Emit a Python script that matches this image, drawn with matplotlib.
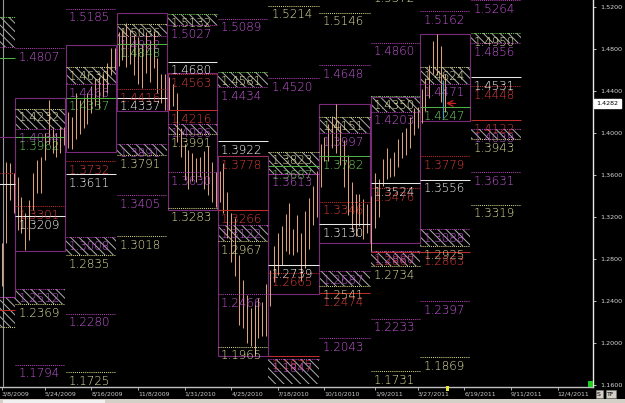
import numpy as np
import pandas as pd
import matplotlib
matplotlib.use('Agg')
import matplotlib.pyplot as plt
from matplotlib.patches import Rectangle
from matplotlib import font_manager

BASE = np.datetime64('2009-03-08')

# ---------------- data ----------------
quarter_starts = ['2009-01-01', '2009-04-01', '2009-07-01', '2009-10-01', '2010-01-01',
                  '2010-04-01', '2010-07-01', '2010-10-01', '2011-01-01', '2011-04-01',
                  '2011-07-01', '2011-10-01']

date_ticks = ['2009-03-08', '2009-05-24', '2009-08-16', '2009-11-08', '2010-01-31',
              '2010-04-25', '2010-07-18', '2010-10-10', '2011-01-09', '2011-03-27',
              '2011-06-19', '2011-09-11', '2011-12-04']
date_labels = ['3/8/2009', '5/24/2009', '8/16/2009', '11/8/2009', '1/31/2010', '4/25/2010',
               '7/18/2010', '10/10/2010', '1/9/2011', '3/27/2011', '6/19/2011', '9/11/2011',
               '12/4/2011']

price_ticks = [1.52, 1.48, 1.44, 1.40, 1.36, 1.32, 1.28, 1.24, 1.20, 1.16]

# weekly bars (week starting 2009-03-08)
bar_high = [1.2950, 1.3720, 1.3710, 1.3620, 1.3580, 1.3390, 1.3240, 1.3360, 1.3620, 1.3740,
            1.3770, 1.4000, 1.4310, 1.4060, 1.4000, 1.4060, 1.4060, 1.4200, 1.4150, 1.4380,
            1.4310, 1.4340, 1.4380, 1.4450, 1.4510, 1.4530, 1.4560, 1.4670, 1.4810, 1.4810,
            1.4960, 1.4990, 1.5050, 1.4980, 1.4930, 1.4910, 1.4850, 1.4960, 1.4890, 1.4950,
            1.4710, 1.4560, 1.4560, 1.4530, 1.4470, 1.4380, 1.4050, 1.3900, 1.3840, 1.3810,
            1.3760, 1.3770, 1.3830, 1.3880, 1.3720, 1.3630, 1.3640, 1.3710, 1.3440, 1.3240,
            1.3190, 1.2840, 1.2600, 1.2460, 1.2330, 1.2370, 1.2430, 1.2390, 1.2560, 1.2700,
            1.2920, 1.3050, 1.3110, 1.3230, 1.3330, 1.3090, 1.3220, 1.3050, 1.3260, 1.3380,
            1.3500, 1.3640, 1.3900, 1.3960, 1.4090, 1.4160, 1.4280, 1.4080, 1.3930, 1.3790,
            1.3530, 1.3420, 1.3420, 1.3370, 1.3320, 1.3400, 1.3620, 1.3560, 1.3750, 1.3860,
            1.3760, 1.3820, 1.3940, 1.4010, 1.4050, 1.4150, 1.4240, 1.4250, 1.4420, 1.4520,
            1.4650, 1.4880, 1.4940, 1.4830, 1.4560]
bar_low = [1.2540, 1.2950, 1.3360, 1.3240, 1.3080, 1.3050, 1.2890, 1.2980, 1.3270, 1.3430,
           1.3430, 1.3740, 1.3900, 1.3810, 1.3770, 1.3810, 1.3890, 1.3860, 1.3850, 1.3940,
           1.3990, 1.4050, 1.4090, 1.4190, 1.4260, 1.4240, 1.4340, 1.4380, 1.4550, 1.4600,
           1.4640, 1.4700, 1.4630, 1.4660, 1.4550, 1.4470, 1.4430, 1.4570, 1.4490, 1.4620,
           1.4380, 1.4290, 1.4220, 1.4220, 1.4260, 1.3910, 1.3770, 1.3550, 1.3470, 1.3540,
           1.3530, 1.3580, 1.3470, 1.3410, 1.3340, 1.3300, 1.3340, 1.3240, 1.3000, 1.2770,
           1.2640, 1.2170, 1.2140, 1.2000, 1.1970, 1.1880, 1.2050, 1.2070, 1.2070, 1.2350,
           1.2580, 1.2650, 1.2740, 1.2880, 1.2850, 1.2840, 1.2870, 1.2590, 1.2710, 1.2900,
           1.3120, 1.3200, 1.3490, 1.3730, 1.3730, 1.3860, 1.3810, 1.3700, 1.3490, 1.3220,
           1.3080, 1.3020, 1.3110, 1.2990, 1.3050, 1.2870, 1.3100, 1.3200, 1.3500, 1.3560,
           1.3580, 1.3590, 1.3680, 1.3760, 1.3790, 1.3860, 1.3980, 1.4050, 1.4100, 1.4210,
           1.4330, 1.4560, 1.4550, 1.4300, 1.4200]

# quarterly levels: column (quarter index), price, kind
level_q = [0, 0, 0, 0, 0, 0, 0, 0, 0,
           1, 1, 1, 1, 1, 1, 1, 1, 1,
           2, 2, 2, 2, 2, 2, 2, 2, 2, 2,
           3, 3, 3, 3, 3, 3, 3, 3, 3,
           4, 4, 4, 4, 4, 4, 4, 4, 4,
           5, 5, 5, 5, 5, 5, 5, 5, 5, 5,
           6, 6, 6, 6, 6, 6, 6, 6, 6,
           7, 7, 7, 7, 7, 7, 7, 7, 7, 7, 7,
           8, 8, 8, 8, 8, 8, 8, 8, 8, 8, 8,
           9, 9, 9, 9, 9, 9, 9, 9, 9, 9, 9,
           10, 10, 10, 10, 10, 10, 10, 10, 10, 10]
level_price = [1.5105, 1.4818, 1.4714, 1.3962, 1.3619, 1.3514, 1.2438, 1.2314, 1.2152,
               1.4807, 1.4232, 1.4034, 1.3962, 1.3301, 1.3209, 1.2512, 1.2369, 1.1794,
               1.5185, 1.4630, 1.4463, 1.4337, 1.3732, 1.3611, 1.3008, 1.2835, 1.2280, 1.1725,
               1.5036, 1.4922, 1.4848, 1.4416, 1.4337, 1.3891, 1.3791, 1.3405, 1.3018,
               1.5132, 1.5027, 1.4680, 1.4563, 1.4216, 1.4086, 1.3991, 1.3630, 1.3283,
               1.5089, 1.4581, 1.4434, 1.3922, 1.3778, 1.3266, 1.3122, 1.2967, 1.2466, 1.1965,
               1.5214, 1.4520, 1.3823, 1.3687, 1.3613, 1.2739, 1.2665, 1.1875, 1.1847,
               1.5146, 1.4648, 1.4151, 1.3997, 1.3782, 1.3346, 1.3130, 1.2687, 1.2541, 1.2474, 1.2043,
               1.5372, 1.4860, 1.4350, 1.4203, 1.3524, 1.3476, 1.2867, 1.2880, 1.2734, 1.2233, 1.1731,
               1.5162, 1.4624, 1.4471, 1.4247, 1.3779, 1.3556, 1.3088, 1.2925, 1.2863, 1.2397, 1.1869,
               1.5264, 1.4950, 1.4856, 1.4531, 1.4448, 1.4122, 1.4038, 1.3943, 1.3631, 1.3319]
level_kind = ['GD', 'M', 'G', 'P', 'R', 'W', 'M', 'RS', 'Y',
              'M', 'Y', 'M', 'G', 'R', 'W', 'M', 'Y', 'M',
              'M', 'Y', 'M', 'G', 'R', 'W', 'M', 'Y', 'M', 'Y',
              'Y', 'M', 'G', 'R', 'W', 'M', 'Y', 'M', 'Y',
              'GD', 'M', 'W', 'R', 'RS', 'M', 'Y', 'M', 'Y',
              'M', 'GD', 'M', 'W', 'R', 'RS', 'M', 'Y', 'M', 'Y',
              'Y', 'M', 'Y', 'G', 'M', 'W', 'R', 'RS', 'M',
              'Y', 'M', 'Y', 'M', 'G', 'R', 'W', 'M', 'Y', 'RS', 'M',
              'Y', 'M', 'GD', 'M', 'W', 'R', 'RS', 'M', 'Y', 'M', 'Y',
              'M', 'Y', 'M', 'G', 'R', 'W', 'M', 'Y', 'RS', 'M', 'Y',
              'M', 'GD', 'M', 'W', 'R', 'RS', 'M', 'Y', 'M', 'Y']

# hatched pivot zones: column, top, bottom
zone_q = [0, 0, 1, 1, 2, 2, 3, 3, 4, 4, 5, 5, 6, 6, 7, 7, 8, 8, 9, 9, 10, 10]
zone_top = [1.5105, 1.2438, 1.4232, 1.2512, 1.4630, 1.3008, 1.5036, 1.3891, 1.5132, 1.4086,
            1.4581, 1.3122, 1.3823, 1.1847, 1.4151, 1.2687, 1.4350, 1.2880, 1.4624, 1.3088,
            1.4950, 1.4038]
zone_bot = [1.4818, 1.2152, 1.4034, 1.2369, 1.4463, 1.2835, 1.4922, 1.3791, 1.5027, 1.3991,
            1.4434, 1.2967, 1.3613, 1.1605, 1.3997, 1.2541, 1.4203, 1.2734, 1.4471, 1.2925,
            1.4856, 1.3943]

# previous-quarter range boxes: column, high, low
box_q = [0, 1, 2, 3, 4, 5, 6, 7, 8, 9]
box_hi = [1.3962, 1.4333, 1.4838, 1.5143, 1.4571, 1.3778, 1.3613, 1.4276, 1.4343, 1.4939]
box_lo = [1.2438, 1.2876, 1.3819, 1.4210, 1.3267, 1.1875, 1.2467, 1.2952, 1.2952, 1.4114]

last_price = 1.4282
last_date = '2011-05-13'

# ---------------- styles ----------------
DOT = (0, (1, 1))
STYLE = {  # line colour, linestyle, text colour
    'M': ('#b040b0', DOT, '#c858dc'),
    'Y': ('#d0d088', DOT, '#e6e6a4'),
    'R': ('#c02c2c', DOT, '#e03c3c'),
    'RS': ('#c02c2c', '-', '#e03c3c'),
    'W': ('#e8e8e8', '-', '#ffffff'),
    'G': ('#50b044', '-', '#74d864'),
    'GD': ('#70c854', DOT, '#e6e6a4'),
    'P': ('#7a2a7a', '-', '#c858dc'),
}

# thin label font if available
label_family = 'DejaVu Sans'
label_weight = 'normal'
for fam, wt in [('DejaVu Sans', 'ultralight'), ('Roboto', 'light'), ('Lato', 'light'),
                ('Open Sans', 'light')]:
    try:
        fp = font_manager.FontProperties(family=fam, weight=wt)
        path = font_manager.findfont(fp, fallback_to_default=False)
        f = font_manager.get_font(path)
        name = (f.style_name or '').lower()
        if 'light' in name or 'thin' in name:
            label_family, label_weight = fam, wt
            break
    except Exception:
        pass

W_PX, H_PX = 625, 403
fig = plt.figure(figsize=(W_PX / 100, H_PX / 100), dpi=100, facecolor='black')
ax = fig.add_axes([0, 16 / H_PX, 593 / W_PX, 387 / H_PX])
ax.set_facecolor('black')


def day(d):
    return float((np.datetime64(d) - BASE).astype(int))


xmin, xmax = -3.6, 1064.9
ax.set_xlim(xmin, xmax)
ax.set_ylim(1.15810, 1.52667)

plt.rcParams['hatch.linewidth'] = 0.7

qx = [day(d) for d in quarter_starts]

# zones
for q, t, b in zip(zone_q, zone_top, zone_bot):
    x0, x1 = qx[q], qx[q + 1]
    ax.add_patch(Rectangle((x0, b), x1 - x0 - 1, t - b, facecolor='black', edgecolor='#b0b0b0',
                           hatch='\\\\\\\\', lw=0, zorder=1))

# boxes
for q, hi, lo in zip(box_q, box_hi, box_lo):
    x0, x1 = qx[q], qx[q + 1]
    ax.add_patch(Rectangle((x0, lo), x1 - x0 - 1, hi - lo, fill=False, edgecolor='#7a2a7a',
                           lw=0.8, zorder=2))

# bars
bar_dates = pd.date_range('2009-03-08', periods=len(bar_high), freq='7D')
bx = [(np.datetime64(d) - BASE).astype('timedelta64[D]').astype(int) for d in bar_dates.values]
ax.vlines(bx, bar_low, bar_high, colors='#d9a27c', lw=0.75, zorder=3)

# levels
for q, p, k in zip(level_q, level_price, level_kind):
    x0, x1 = qx[q], qx[q + 1]
    lc, ls, tc = STYLE[k]
    ax.hlines(p, x0, x1 - 1, colors=lc, linestyles=ls, lw=0.75, zorder=4)
    if x0 >= xmin:
        ax.annotate(f'{p:.4f}', (x0, p), xytext=(2.3, -2.0), textcoords='offset points',
                    color=tc, fontsize=8.6, va='top', ha='left', clip_on=True,
                    annotation_clip=False, zorder=5, family=label_family,
                    fontweight=label_weight)

# left marker line
ax.axvline(1.8, color='#9a9a9a', lw=0.8, zorder=3)

# current price marker
lx = day(last_date)
ax.vlines(lx - 1, 1.4143, 1.4505, colors='#3aa0c8', lw=0.8, zorder=6)
ax.annotate('', xy=(lx - 1, last_price), xytext=(lx + 26, last_price),
            arrowprops=dict(arrowstyle='->', color='#d02020', lw=0.9), zorder=6)
ax.annotate(f'{last_price:.4f}', xy=(1, last_price), xycoords=('axes fraction', 'data'),
            xytext=(2.5, 0), textcoords='offset points', va='center', ha='left',
            fontsize=4.6, color='black', annotation_clip=False,
            bbox=dict(boxstyle='square,pad=0.35', fc='white', ec='white'))

# axes decoration
for s in ['left', 'top']:
    ax.spines[s].set_visible(False)
ax.spines['right'].set_color('#e8e8e8')
ax.spines['right'].set_linewidth(1)
ax.spines['bottom'].set_color('#c0c0c0')
ax.spines['bottom'].set_linewidth(1)

ax.yaxis.tick_right()
ax.set_yticks(price_ticks)
ax.set_yticklabels([f'{v:.4f}' for v in price_ticks])
ax.tick_params(axis='y', colors='#d8d8d8', labelsize=4.6, length=2, pad=3, width=0.6)

ax.set_xticks([day(d) for d in date_ticks])
ax.set_xticklabels(date_labels)
ax.tick_params(axis='x', colors='#c8c8c8', labelsize=4.5, length=2, pad=1.5, width=0.6)
for lab in ax.get_xticklabels():
    lab.set_ha('left')

# bottom status strip / buttons
fig.patches.append(Rectangle((0, 0), 1, 4 / H_PX, transform=fig.transFigure,
                             facecolor='#d4d0c8', edgecolor='none', zorder=0))
fig.patches.append(Rectangle((3 / W_PX, 0), 102 / W_PX, 3 / H_PX, transform=fig.transFigure,
                             facecolor='#f0f0f0', edgecolor='none', zorder=1))
fig.patches.append(Rectangle((588 / W_PX, 1 - 387 / H_PX), 5 / W_PX, 6 / H_PX,
                             transform=fig.transFigure, facecolor='#20d020', edgecolor='none',
                             zorder=5))
fig.patches.append(Rectangle((445.5 / W_PX, 1 - 391 / H_PX), 3 / W_PX, 5 / H_PX,
                             transform=fig.transFigure, facecolor='#e8e840', edgecolor='none',
                             zorder=5))
fig.text(599 / W_PX, 1 - 394 / H_PX, 'S', fontsize=4.5, color='black', ha='center', va='center',
         bbox=dict(boxstyle='square,pad=0.25', fc='#d4d0c8', ec='#808080', lw=0.4))
fig.text(611 / W_PX, 1 - 394 / H_PX, 'TF', fontsize=4.5, color='black', ha='center', va='center',
         bbox=dict(boxstyle='square,pad=0.25', fc='#d4d0c8', ec='#808080', lw=0.4))

fig.savefig('out.png', dpi=100, facecolor='black')
